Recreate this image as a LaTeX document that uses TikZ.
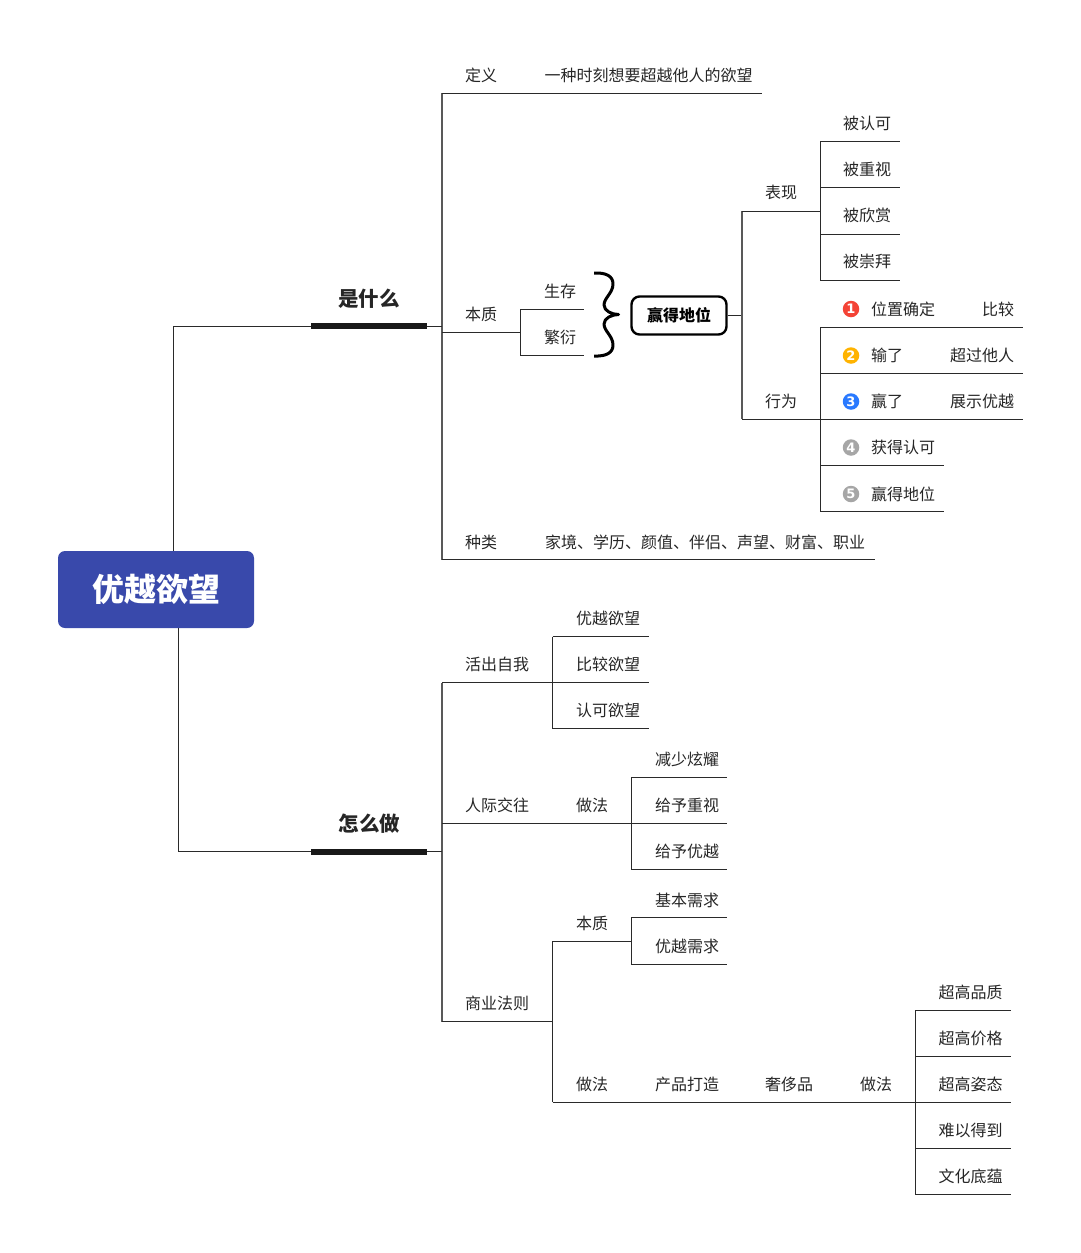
\documentclass[tikz,border=0pt]{standalone}
\usepackage{fontspec}
\setmainfont{Noto Sans CJK SC}
\usetikzlibrary{calc}
\definecolor{rootblue}{HTML}{3949AB}
\definecolor{linegray}{HTML}{2A2A2A}
\definecolor{badgered}{HTML}{F44336}
\definecolor{badgeamber}{HTML}{FFB300}
\definecolor{badgeblue}{HTML}{2979FF}
\definecolor{badgegray}{HTML}{A6A6A6}
\newfontfamily\badgefont{DejaVu Sans}

\begin{document}
\begin{tikzpicture}[x=1pt,y=-1pt]
    \tikzstyle{edge}=[line width=1pt,draw=linegray]
    \tikzstyle{spine}=[line width=1.4pt,draw=black!65]
    \tikzstyle{topic}=[
      inner sep=0pt,
      text height=14pt,
      text depth=2pt,
      text=black!85,
      font=\fontsize{16}{16}\selectfont,
    ]
    \tikzstyle{title}=[
      topic,
      text height=17.5pt,
      text depth=2.5pt,
      font=\fontsize{20.5}{20.5}\selectfont\bfseries,
    ]
    \tikzstyle{bar}=[
      fill=black!90,
      inner sep=0pt,
      minimum width=116pt,
      minimum height=6pt,
    ]
    \tikzstyle{rootbox}=[
      rectangle,
      rounded corners=7pt,
      fill=rootblue,
      text=white,
      inner sep=0pt,
      minimum width=196pt,
      minimum height=77pt,
      font=\fontsize{32}{32}\selectfont\bfseries,
    ]
    \tikzstyle{focus}=[
      rectangle,
      rounded corners=8pt,
      draw=black,
      line width=2.4pt,
      inner sep=0pt,
      minimum width=95pt,
      minimum height=38pt,
      font=\fontsize{16}{16}\selectfont\bfseries,
    ]
    \tikzstyle{badge}=[
      circle,
      inner sep=0pt,
      minimum size=16.5pt,
      text=white,
      font=\badgefont\fontsize{13}{13}\selectfont\bfseries,
    ]

    \useasboundingbox (0,0) rectangle (1080,1253);

    % root
    {
      \node[rootbox] (root) at (156,589.5) {优越欲望};
      \coordinate (rootUp) at ([xshift=17.7pt] root.north);
      \coordinate (rootDown) at ([xshift=22.7pt] root.south);
      \node[bar] (whatBar) at (369,326.3) {};
      \node[bar] (howBar) at (369,851.7) {};
      \node[title] (what) at (369,298.5) {是什么};
      \node[title] (how) at (369.5,823.5) {怎么做};
      \draw[edge] (rootUp) |- (whatBar.west);
      \draw[edge] (rootDown) |- (howBar.west);
    }

    % what
    {
      \coordinate (whatTop) at (442,93);
      \coordinate (whatBottom) at (442,559.5);
      \draw[spine] (whatTop)--(whatBottom);
      \draw[edge] (whatBar.east)--(whatBar.east -| whatTop);

      \node[topic] (defKey) at (481,75) {定义};
      \node[topic] (defVal) at (648.5,75) {一种时刻想要超越他人的欲望};
      \coordinate (defEnd) at (762,93);
      \draw[edge] (whatTop)--(defEnd);

      \node[topic] (kindKey) at (481,542) {种类};
      \node[topic] (kindVal) at (705,542) {家境、学历、颜值、伴侣、声望、财富、职业};
      \coordinate (kindEnd) at (875,559.5);
      \draw[edge] (whatBottom)--(kindEnd);

      \node[topic] (coreKey) at (481,314) {本质};
      \coordinate (coreStart) at (442,332);
      \coordinate (coreEnd) at (520,332);
      \draw[edge] (coreStart)--(coreEnd);

      \node[topic] (live) at (560,291) {生存};
      \node[topic] (breed) at (560,337) {繁衍};
      \coordinate (liveJoin) at (520,309);
      \coordinate (breedJoin) at (520,355);
      \coordinate (liveEnd) at (584,309);
      \coordinate (breedEnd) at (584,355);
      \draw[edge] (liveJoin)--(breedJoin);
      \draw[edge] (liveJoin)--(liveEnd);
      \draw[edge] (breedJoin)--(breedEnd);

      \coordinate (braceTop) at (594,273);
      \coordinate (braceTip) at (618.5,314.5);
      \coordinate (braceBottom) at (594,356);
      \draw[line width=3pt, line join=round, black]
        (braceTop) .. controls (606,272.5) and (613,276) .. (613,284)
        .. controls (613,293) and (604,298) .. (604,305)
        .. controls (604,311) and (612,314.5) .. (braceTip)
        .. controls (612,314.5) and (604,318) .. (604,324)
        .. controls (604,331) and (613,336) .. (613,345)
        .. controls (613,353) and (606,356.5) .. (braceBottom);

      \node[focus] (win) at (679,315.5) {赢得地位};
      \coordinate (winSpine) at (742,315.5);
      \draw[edge] (win.east)--(winSpine);
    }

    % win branches
    {
      \coordinate (showJoin) at (742,211);
      \coordinate (actJoin) at (742,419);
      \draw[spine] (showJoin)--(actJoin);

      \node[topic] (show) at (781,192.5) {表现};
      \coordinate (showEnd) at (820,211);
      \draw[edge] (showJoin)--(showEnd);

      \node[topic] (show1) at (867,123.5) {被认可};
      \node[topic] (show2) at (867,169.5) {被重视};
      \node[topic] (show3) at (867,215.5) {被欣赏};
      \node[topic] (show4) at (867,261.5) {被崇拜};
      \coordinate (show1a) at (820,141.5);
      \coordinate (show2a) at (820,187.5);
      \coordinate (show3a) at (820,234);
      \coordinate (show4a) at (820,280);
      \coordinate (show1b) at (900,141.5);
      \coordinate (show2b) at (900,187.5);
      \coordinate (show3b) at (900,234);
      \coordinate (show4b) at (900,280);
      \draw[edge] (show1a)--(show4a);
      \draw[edge] (show1a)--(show1b);
      \draw[edge] (show2a)--(show2b);
      \draw[edge] (show3a)--(show3b);
      \draw[edge] (show4a)--(show4b);

      \node[topic] (act) at (781,401) {行为};
      \coordinate (actEnd) at (820,419);
      \draw[edge] (actJoin)--(actEnd);

      \node[badge,fill=badgered] (badge1) at (851,309) {1};
      \node[badge,fill=badgeamber] (badge2) at (851,355.5) {2};
      \node[badge,fill=badgeblue] (badge3) at (851,401.5) {3};
      \node[badge,fill=badgegray] (badge4) at (851,447.5) {4};
      \node[badge,fill=badgegray] (badge5) at (851,494) {5};

      \node[topic] (act1) at (903,309.5) {位置确定};
      \node[topic] (act2) at (887,355.5) {输了};
      \node[topic] (act3) at (887,401.5) {赢了};
      \node[topic] (act4) at (903,447.5) {获得认可};
      \node[topic] (act5) at (903,494) {赢得地位};
      \node[topic] (res1) at (998,309.5) {比较};
      \node[topic] (res2) at (982,355.5) {超过他人};
      \node[topic] (res3) at (982,401.5) {展示优越};

      \coordinate (act1a) at (820,327);
      \coordinate (act2a) at (820,373);
      \coordinate (act3a) at (820,419);
      \coordinate (act4a) at (820,465.5);
      \coordinate (act5a) at (820,511.5);
      \coordinate (act1b) at (1023,327);
      \coordinate (act2b) at (1023,373);
      \coordinate (act3b) at (1023,419);
      \coordinate (act4b) at (944,465.5);
      \coordinate (act5b) at (944,511.5);
      \draw[edge] (act1a)--(act5a);
      \draw[edge] (act1a)--(act1b);
      \draw[edge] (act2a)--(act2b);
      \draw[edge] (act3a)--(act3b);
      \draw[edge] (act4a)--(act4b);
      \draw[edge] (act5a)--(act5b);
    }

    % how
    {
      \coordinate (selfJoin) at (442,682.5);
      \coordinate (bizJoin) at (442,1021.5);
      \draw[spine] (selfJoin)--(bizJoin);
      \draw[edge] (howBar.east)--(howBar.east -| selfJoin);

      \node[topic] (self) at (497,664.5) {活出自我};
      \coordinate (selfEnd) at (552.5,682.5);
      \draw[edge] (selfJoin)--(selfEnd);
      \node[topic] (self1) at (608,618.5) {优越欲望};
      \node[topic] (self2) at (608,664.5) {比较欲望};
      \node[topic] (self3) at (608,710.5) {认可欲望};
      \coordinate (self1a) at (552.5,636.5);
      \coordinate (self3a) at (552.5,728.5);
      \coordinate (self1b) at (649,636.5);
      \coordinate (self2b) at (649,682.5);
      \coordinate (self3b) at (649,728.5);
      \draw[edge] (self1a)--(self3a);
      \draw[edge] (self1a)--(self1b);
      \draw[edge] (selfEnd)--(self2b);
      \draw[edge] (self3a)--(self3b);

      \node[topic] (social) at (497,805.5) {人际交往};
      \node[topic] (socialWay) at (592,805.5) {做法};
      \coordinate (socialStart) at (442,823.3);
      \coordinate (socialEnd) at (727,823.3);
      \draw[edge] (socialStart)--(socialEnd);
      \node[topic] (social1) at (687,759.5) {减少炫耀};
      \node[topic] (social2) at (687,805.5) {给予重视};
      \node[topic] (social3) at (687,851.5) {给予优越};
      \coordinate (social1a) at (631,777);
      \coordinate (social3a) at (631,869.5);
      \coordinate (social1b) at (727,777);
      \coordinate (social3b) at (727,869.5);
      \draw[edge] (social1a)--(social3a);
      \draw[edge] (social1a)--(social1b);
      \draw[edge] (social3a)--(social3b);

      \node[topic] (biz) at (497,1003.5) {商业法则};
      \coordinate (bizEnd) at (552.5,1021.5);
      \draw[edge] (bizJoin)--(bizEnd);

      \node[topic] (bizCore) at (592,923.5) {本质};
      \coordinate (bizCoreA) at (552.5,941);
      \coordinate (bizCoreB) at (631,941);
      \node[topic] (bizWay) at (592,1084.5) {做法};
      \node[topic] (bizMake) at (687,1084.5) {产品打造};
      \node[topic] (bizLux) at (789,1084.5) {奢侈品};
      \node[topic] (bizLuxWay) at (876,1084.5) {做法};
      \coordinate (bizWayA) at (552.5,1102.3);
      \coordinate (bizWayB) at (915,1102.3);
      \draw[edge] (bizCoreA)--(bizWayA);
      \draw[edge] (bizCoreA)--(bizCoreB);
      \draw[edge] (bizWayA)--(bizWayB);

      \node[topic] (need1) at (687,900) {基本需求};
      \node[topic] (need2) at (687,946.5) {优越需求};
      \coordinate (need1a) at (631,917.5);
      \coordinate (need2a) at (631,964);
      \coordinate (need1b) at (727,917.5);
      \coordinate (need2b) at (727,964);
      \draw[edge] (need1a)--(need2a);
      \draw[edge] (need1a)--(need1b);
      \draw[edge] (need2a)--(need2b);

      \node[topic] (lux1) at (970.5,992.5) {超高品质};
      \node[topic] (lux2) at (970.5,1038.5) {超高价格};
      \node[topic] (lux3) at (970.5,1084.5) {超高姿态};
      \node[topic] (lux4) at (970.5,1130.5) {难以得到};
      \node[topic] (lux5) at (970.5,1176.5) {文化底蕴};
      \coordinate (lux1a) at (915,1010);
      \coordinate (lux2a) at (915,1056);
      \coordinate (lux4a) at (915,1148.3);
      \coordinate (lux5a) at (915,1194.5);
      \coordinate (lux1b) at (1011,1010);
      \coordinate (lux2b) at (1011,1056);
      \coordinate (lux3b) at (1011,1102.3);
      \coordinate (lux4b) at (1011,1148.3);
      \coordinate (lux5b) at (1011,1194.5);
      \draw[edge] (lux1a)--(lux5a);
      \draw[edge] (lux1a)--(lux1b);
      \draw[edge] (lux2a)--(lux2b);
      \draw[edge] (bizWayB)--(lux3b);
      \draw[edge] (lux4a)--(lux4b);
      \draw[edge] (lux5a)--(lux5b);
    }
\end{tikzpicture}
\end{document}
